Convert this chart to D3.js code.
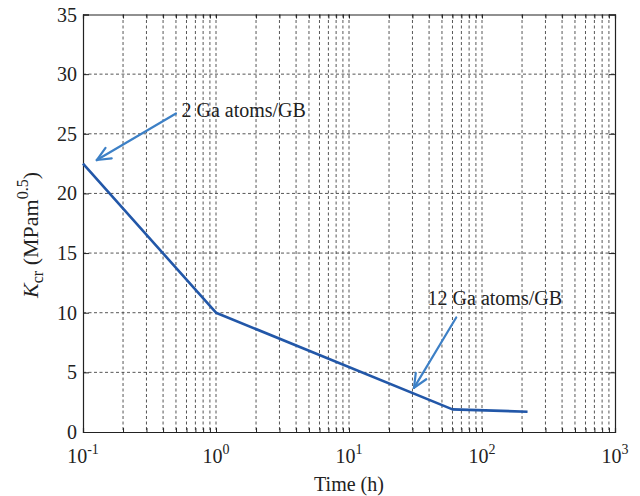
<!DOCTYPE html>
<html>
<head>
<meta charset="utf-8">
<script src="https://cdn.jsdelivr.net/npm/d3@7"></script>
<style>
  html, body { margin: 0; padding: 0; background: #fff; }
  svg text { font-family: "Liberation Serif", "Times New Roman", serif; fill: #222; }
</style>
</head>
<body>
<svg id="chart" width="640" height="496"></svg>
<script>
// Critical stress intensity vs. exposure time
const timeH = [0.1, 1, 60, 220];
const kcr = [22.5, 10, 1.9, 1.7];

const xDecades = [0.1, 1, 10, 100, 1000];
const xExponents = ["-1", "0", "1", "2", "3"];
const yTicks = [0, 5, 10, 15, 20, 25, 30, 35];

// Annotation arrows: tail, tip and label position in data units
const notes = [
  { label: "2 Ga atoms/GB", from: [0.5, 26.7], to: [0.127, 22.8], text: [0.55, 27.0] },
  { label: "12 Ga atoms/GB", from: [64, 9.6], to: [30.8, 3.7], text: [39, 11.2] }
];

const svg = d3.select("#chart");
const m = { left: 83, top: 14.5, right: 25, bottom: 64 };
const W = 640 - m.left - m.right, H = 496 - m.top - m.bottom;

const x = d3.scaleLog().domain([0.1, 1000]).range([m.left, m.left + W]);
const y = d3.scaleLinear().domain([0, 35]).range([m.top + H, m.top]);

// minor log positions 2..9 within each decade
const minor = [];
xDecades.slice(0, -1).forEach(d => { for (let k = 2; k <= 9; k++) minor.push(d * k); });
const allX = xDecades.concat(minor);

const g = svg.append("g");

// grid lines
g.selectAll(".vg").data(allX.filter(v => v > 0.1 && v < 1000)).enter().append("line")
  .attr("x1", d => x(d)).attr("x2", d => x(d))
  .attr("y1", m.top).attr("y2", m.top + H)
  .attr("stroke", "#444").attr("stroke-width", 0.9).attr("stroke-dasharray", "3,2.5");
g.selectAll(".hg").data(yTicks.filter(v => v > 0 && v < 35)).enter().append("line")
  .attr("x1", m.left).attr("x2", m.left + W)
  .attr("y1", d => y(d)).attr("y2", d => y(d))
  .attr("stroke", "#444").attr("stroke-width", 0.9).attr("stroke-dasharray", "3,2.5");

// axes with inward ticks on all four sides
const tickSize = 4;
const bottomAxis = d3.axisBottom(x).tickValues(allX).tickSize(-tickSize).tickFormat("");
const topAxis = d3.axisTop(x).tickValues(allX).tickSize(-tickSize).tickFormat("");
const leftAxis = d3.axisLeft(y).tickValues(yTicks).tickSize(-tickSize * 1.5).tickFormat("");
const rightAxis = d3.axisRight(y).tickValues(yTicks).tickSize(-tickSize * 1.5).tickFormat("");

function style(sel) {
  sel.selectAll("path").attr("stroke", "#222").attr("stroke-width", 1.2);
  sel.selectAll("line").attr("stroke", "#222").attr("stroke-width", 1);
}
g.append("g").attr("transform", `translate(0,${m.top + H})`).call(bottomAxis).call(style);
g.append("g").attr("transform", `translate(0,${m.top})`).call(topAxis).call(style);
g.append("g").attr("transform", `translate(${m.left},0)`).call(leftAxis).call(style);
g.append("g").attr("transform", `translate(${m.left + W},0)`).call(rightAxis).call(style);

// y tick labels
g.selectAll(".yl").data(yTicks).enter().append("text")
  .attr("x", m.left - 6).attr("y", d => y(d)).attr("dy", "0.35em")
  .attr("text-anchor", "end").attr("font-size", 20).text(d => d);

// x tick labels as powers of ten
const xl = g.selectAll(".xl").data(xDecades).enter().append("text")
  .attr("x", d => x(d)).attr("y", m.top + H + 31)
  .attr("text-anchor", "middle").attr("font-size", 20);
xl.append("tspan").text("10");
xl.append("tspan").attr("dy", -9).attr("font-size", 14).text((d, i) => xExponents[i]);

// axis titles
svg.append("text").attr("x", m.left + W / 2).attr("y", 491)
  .attr("text-anchor", "middle").attr("font-size", 20).text("Time (h)");

const yt = svg.append("text").attr("transform", "translate(38,235) rotate(-90)")
  .attr("text-anchor", "middle").attr("font-size", 22);
yt.append("tspan").attr("font-style", "italic").text("K");
yt.append("tspan").attr("dy", 5).attr("font-size", 16).text("cr");
yt.append("tspan").attr("dy", -5).text(" (MPam");
yt.append("tspan").attr("dy", -10).attr("font-size", 16).text("0.5");
yt.append("tspan").attr("dy", 10).text(")");

// data curve
const line = d3.line().x((d, i) => x(timeH[i])).y(d => y(d));
g.append("path").datum(kcr).attr("d", line)
  .attr("fill", "none").attr("stroke", "#2257a8").attr("stroke-width", 2.6)
  .attr("stroke-linejoin", "round");

// annotations
const arrowColor = "#3d80c6";
notes.forEach(n => {
  const x1 = x(n.from[0]), y1 = y(n.from[1]), x2 = x(n.to[0]), y2 = y(n.to[1]);
  g.append("line").attr("x1", x1).attr("y1", y1).attr("x2", x2).attr("y2", y2)
    .attr("stroke", arrowColor).attr("stroke-width", 2.2).attr("stroke-linecap", "round");
  const ang = Math.atan2(y2 - y1, x2 - x1);
  const L = 15, spread = 0.42;
  [ang + Math.PI - spread, ang + Math.PI + spread].forEach(a => {
    g.append("line").attr("x1", x2).attr("y1", y2)
      .attr("x2", x2 + L * Math.cos(a)).attr("y2", y2 + L * Math.sin(a))
      .attr("stroke", arrowColor).attr("stroke-width", 2.2).attr("stroke-linecap", "round");
  });
  g.append("text").attr("x", x(n.text[0])).attr("y", y(n.text[1])).attr("dy", "0.35em")
    .attr("font-size", 20).text(n.label);
});
</script>
</body>
</html>
